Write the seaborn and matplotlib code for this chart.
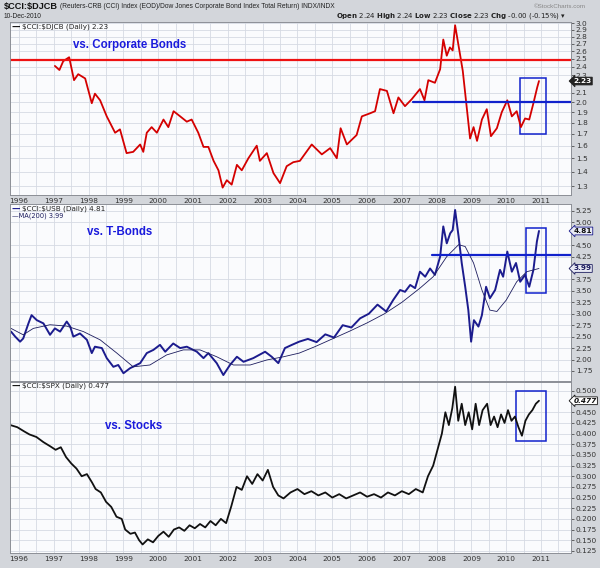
import matplotlib
matplotlib.use("Agg")
import matplotlib.pyplot as plt
import numpy as np
import pandas as pd
import seaborn as sns
from matplotlib.patches import Rectangle
from matplotlib.ticker import FixedLocator, NullLocator, FixedFormatter

# ---- data (decimal years) ----
years = list(range(1996, 2012))

djcb_years = [1997.03, 1997.16, 1997.27, 1997.44, 1997.58, 1997.70, 1997.90,
              1998.09, 1998.18, 1998.33, 1998.52, 1998.76, 1998.90,
              1999.09, 1999.28, 1999.48, 1999.57, 1999.67, 1999.81, 1999.96,
              2000.15, 2000.29, 2000.44, 2000.63, 2000.82, 2000.96,
              2001.15, 2001.30, 2001.44, 2001.59, 2001.73, 2001.85, 2001.97,
              2002.11, 2002.26, 2002.40, 2002.59, 2002.83, 2002.92,
              2003.12, 2003.31, 2003.50, 2003.69, 2003.88,
              2004.07, 2004.41, 2004.70, 2004.94,
              2005.13, 2005.24, 2005.42, 2005.70, 2005.85,
              2006.09, 2006.23, 2006.37, 2006.57, 2006.76, 2006.90,
              2007.09, 2007.28, 2007.52, 2007.65, 2007.76, 2007.95,
              2008.10, 2008.19, 2008.29, 2008.38, 2008.46, 2008.53, 2008.67, 2008.75, 2008.86, 2008.96,
              2009.06, 2009.16, 2009.30, 2009.44, 2009.56, 2009.73, 2009.87,
              2010.03, 2010.16, 2010.30, 2010.42, 2010.54, 2010.66, 2010.78, 2010.89, 2010.94]
djcb_vals = [2.41, 2.36, 2.47, 2.52, 2.24, 2.31, 2.26,
             1.99, 2.09, 2.02, 1.86, 1.71, 1.74,
             1.54, 1.55, 1.61, 1.55, 1.71, 1.76, 1.71,
             1.83, 1.76, 1.91, 1.86, 1.81, 1.83,
             1.71, 1.59, 1.59, 1.48, 1.41, 1.29, 1.34,
             1.31, 1.45, 1.41, 1.50, 1.60, 1.48,
             1.54, 1.39, 1.32, 1.44, 1.47,
             1.48, 1.61, 1.53, 1.58,
             1.50, 1.75, 1.61, 1.69, 1.86,
             1.89, 1.91, 2.14, 2.12, 1.89, 2.05,
             1.96, 2.03, 2.14, 2.02, 2.24, 2.21,
             2.37, 2.76, 2.54, 2.65, 2.61, 2.97, 2.56, 2.35, 1.96, 1.66,
             1.76, 1.64, 1.83, 1.93, 1.68, 1.75, 1.90,
             2.02, 1.86, 1.91, 1.76, 1.84, 1.83, 1.99, 2.16, 2.23]

usb_years = [1995.77, 1995.89, 1996.03, 1996.12, 1996.27, 1996.36, 1996.51, 1996.70, 1996.89,
             1997.03, 1997.18, 1997.37, 1997.47, 1997.56, 1997.75, 1997.95,
             1998.09, 1998.18, 1998.38, 1998.52, 1998.71, 1998.85,
             1999.00, 1999.19, 1999.48, 1999.67, 1999.86,
             2000.05, 2000.20, 2000.43, 2000.63, 2000.82,
             2001.11, 2001.30, 2001.44, 2001.68, 2001.87,
             2002.06, 2002.26, 2002.45, 2002.73,
             2003.07, 2003.26, 2003.45, 2003.64, 2003.84,
             2004.05, 2004.30, 2004.55, 2004.80,
             2005.05, 2005.30, 2005.55, 2005.80,
             2006.05, 2006.30, 2006.55, 2006.75, 2006.95,
             2007.09, 2007.24, 2007.38, 2007.52, 2007.67, 2007.81, 2007.95,
             2008.10, 2008.19, 2008.29, 2008.39, 2008.46, 2008.53, 2008.63, 2008.72, 2008.82, 2008.91, 2008.99,
             2009.07, 2009.20, 2009.30, 2009.42, 2009.53, 2009.68, 2009.82, 2009.91,
             2010.03, 2010.16, 2010.28, 2010.40, 2010.54, 2010.66, 2010.78, 2010.88, 2010.94]
usb_vals = [2.61, 2.50, 2.39, 2.46, 2.79, 2.97, 2.86, 2.79, 2.54,
            2.68, 2.61, 2.83, 2.72, 2.50, 2.57, 2.43,
            2.14, 2.28, 2.25, 2.03, 1.84, 1.88,
            1.70, 1.81, 1.92, 2.14, 2.21,
            2.32, 2.17, 2.35, 2.25, 2.28,
            2.17, 2.03, 2.14, 1.92, 1.66,
            1.88, 2.06, 1.95, 2.03,
            2.17, 2.06, 1.92, 2.25, 2.32,
            2.39, 2.45, 2.38, 2.55,
            2.48, 2.75, 2.70, 2.90,
            3.00, 3.20, 3.05, 3.30, 3.52,
            3.48, 3.63, 3.56, 3.92, 3.81, 3.99, 3.85,
            4.25, 4.91, 4.54, 4.76, 4.83, 5.27, 4.69, 4.11, 3.59, 3.08, 2.39,
            2.86, 2.72, 2.97, 3.59, 3.34, 3.52, 3.96, 3.81,
            4.36, 3.92, 4.11, 3.70, 3.85, 3.59, 3.96, 4.58, 4.81]

ma_years = [1995.77, 1996.12, 1996.41, 1996.89, 1997.37, 1997.85, 1998.33, 1998.81,
            1999.28, 1999.76, 2000.24, 2000.72, 2001.20, 2001.68, 2002.16, 2002.64,
            2003.12, 2003.60, 2004.05, 2004.50, 2005.00, 2005.50, 2006.00, 2006.50,
            2007.00, 2007.52, 2007.90, 2008.29, 2008.63, 2008.82, 2009.06, 2009.30,
            2009.53, 2009.73, 2010.00, 2010.30, 2010.59, 2010.94]
ma_vals = [2.68, 2.54, 2.68, 2.76, 2.73, 2.61, 2.43, 2.14,
           1.84, 1.88, 2.10, 2.21, 2.21, 2.06, 1.88, 1.88,
           1.99, 2.06, 2.14, 2.28, 2.45, 2.62, 2.80, 3.00,
           3.25, 3.56, 3.81, 4.25, 4.51, 4.47, 4.11, 3.52,
           3.08, 3.05, 3.30, 3.70, 3.92, 3.99]

spx_years = [1995.75, 1995.95, 1996.15, 1996.3, 1996.5, 1996.7, 1996.9,
             1997.05, 1997.2, 1997.35, 1997.5, 1997.65, 1997.8, 1997.95,
             1998.1, 1998.2, 1998.35, 1998.5, 1998.65, 1998.8, 1998.95,
             1999.05, 1999.2, 1999.33, 1999.45, 1999.55, 1999.7, 1999.85,
             2000.0, 2000.15, 2000.3, 2000.45, 2000.6, 2000.75, 2000.9,
             2001.05, 2001.2, 2001.35, 2001.5, 2001.65, 2001.8, 2001.95,
             2002.1, 2002.25, 2002.4, 2002.55, 2002.7, 2002.85,
             2003.0, 2003.15, 2003.3, 2003.45, 2003.6, 2003.8,
             2004.0, 2004.2, 2004.4, 2004.6, 2004.8,
             2005.0, 2005.2, 2005.4, 2005.6, 2005.8,
             2006.0, 2006.2, 2006.4, 2006.6, 2006.8,
             2007.0, 2007.2, 2007.4, 2007.6, 2007.75, 2007.9,
             2008.05, 2008.15, 2008.25, 2008.35, 2008.45, 2008.53, 2008.62, 2008.72, 2008.82, 2008.92,
             2009.02, 2009.12, 2009.22, 2009.32, 2009.45, 2009.55, 2009.65, 2009.75, 2009.85, 2009.95,
             2010.05, 2010.15, 2010.25, 2010.35, 2010.45, 2010.55, 2010.65, 2010.75, 2010.85, 2010.94]
spx_vals = [0.420, 0.415, 0.405, 0.398, 0.392, 0.380, 0.370,
            0.362, 0.368, 0.345, 0.330, 0.318, 0.300, 0.305,
            0.285, 0.270, 0.262, 0.240, 0.228, 0.205, 0.200,
            0.175, 0.165, 0.168, 0.150, 0.140, 0.152, 0.145,
            0.160, 0.170, 0.158, 0.175, 0.180, 0.172, 0.185,
            0.178, 0.188, 0.180, 0.195, 0.185, 0.200, 0.190,
            0.230, 0.275, 0.268, 0.300, 0.282, 0.305,
            0.290, 0.315, 0.275, 0.255, 0.248, 0.262,
            0.270, 0.258, 0.265, 0.255, 0.262,
            0.250, 0.258, 0.248, 0.255, 0.262,
            0.252, 0.258, 0.250, 0.262, 0.255,
            0.265, 0.258, 0.270, 0.262, 0.300, 0.325,
            0.370, 0.400, 0.450, 0.420, 0.460, 0.510, 0.430, 0.470, 0.420, 0.450,
            0.410, 0.470, 0.420, 0.455, 0.470, 0.420, 0.440, 0.415, 0.445, 0.425,
            0.455, 0.430, 0.440, 0.415, 0.395, 0.430, 0.445, 0.455, 0.470, 0.477]

# 2.2 sits under the 2.23 value tag, so it is left out
djcb_ticks = [1.3, 1.4, 1.5, 1.6, 1.7, 1.8, 1.9, 2.0, 2.1, 2.3, 2.4, 2.5, 2.6, 2.7, 2.8, 2.9, 3.0]
usb_ticks = [1.75, 2.00, 2.25, 2.50, 2.75, 3.00, 3.25, 3.50, 3.75, 4.25, 4.50, 5.00, 5.25]
spx_ticks = [0.125, 0.150, 0.175, 0.200, 0.225, 0.250, 0.275, 0.300, 0.325, 0.350,
             0.375, 0.400, 0.425, 0.450, 0.500]

# annotations drawn on the chart
djcb_red_level = 2.49
djcb_blue_level = 2.00
usb_blue_level = 4.28

sns.set_theme(style="white")
plt.rcParams["font.family"] = ["DejaVu Sans"]

W, H = 600, 568
fig = plt.figure(figsize=(W / 100, H / 100), dpi=100)
fig.patch.set_facecolor("#d3d6db")


def px_axes(top, bottom, left=10, right=571):
    return fig.add_axes([left / W, 1 - bottom / H, (right - left) / W, (bottom - top) / H])


ax1 = px_axes(22, 195)
ax2 = px_axes(204, 381)
ax3 = px_axes(382, 553)

grid_c = "#d6dae3"
for ax in (ax1, ax2, ax3):
    ax.set_facecolor("#fafbfd")
    ax.xaxis.set_major_locator(FixedLocator(years))
    ax.xaxis.set_minor_locator(FixedLocator([y + 0.5 for y in years]))
    ax.grid(True, which="both", axis="x", color=grid_c, linewidth=0.6)
    ax.grid(True, which="major", axis="y", color=grid_c, linewidth=0.6)
    ax.yaxis.tick_right()
    ax.tick_params(axis="y", labelsize=5.3, colors="#333333", length=2, pad=1.5, width=0.5)
    ax.tick_params(axis="x", which="both", length=0, labelsize=5.3, colors="#333333", pad=2)
    for s in ax.spines.values():
        s.set_color("#8c8f96")
        s.set_linewidth(0.7)

# ---- panel 1 : CCI / DJCB ----
sns.lineplot(x=djcb_years, y=djcb_vals, ax=ax1, color="#d40000", linewidth=1.3,
             estimator=None, sort=False)
ax1.set_yscale("log")
ax1.set_ylim(1.242, 3.02)
ax1.yaxis.set_major_locator(FixedLocator(djcb_ticks))
ax1.yaxis.set_major_formatter(FixedFormatter([f"{t:.1f}" for t in djcb_ticks]))
ax1.yaxis.set_minor_locator(NullLocator())
ax1.axhline(djcb_red_level, color="#ee1111", linewidth=1.6)
ax1.plot([2007.33, 2012.0], [djcb_blue_level] * 2, color="#1122cc", linewidth=1.6)
ax1.add_patch(Rectangle((2010.40, 1.70), 0.74, 0.57, fill=False, edgecolor="#1122cc", linewidth=1.1))
ax1.set_xticks(years)
ax1.set_xticklabels([str(y) for y in years])

# ---- panel 2 : CCI / USB ----
sns.lineplot(x=usb_years, y=usb_vals, ax=ax2, color="#1c1c8e", linewidth=1.4,
             estimator=None, sort=False)
sns.lineplot(x=ma_years, y=ma_vals, ax=ax2, color="#1c1c5e", linewidth=0.6,
             estimator=None, sort=False)
ax2.set_ylim(1.53, 5.40)
ax2.yaxis.set_major_locator(FixedLocator(usb_ticks))
ax2.yaxis.set_major_formatter(FixedFormatter([f"{t:.2f}" for t in usb_ticks]))
ax2.plot([2007.86, 2012.0], [usb_blue_level] * 2, color="#1122cc", linewidth=1.6)
ax2.add_patch(Rectangle((2010.56, 3.45), 0.58, 1.42, fill=False, edgecolor="#1122cc", linewidth=1.1))
ax2.set_xticklabels([])

# ---- panel 3 : CCI / SPX ----
sns.lineplot(x=spx_years, y=spx_vals, ax=ax3, color="#111111", linewidth=1.3,
             estimator=None, sort=False)
ax3.set_ylim(0.12, 0.521)
ax3.yaxis.set_major_locator(FixedLocator(spx_ticks))
ax3.yaxis.set_major_formatter(FixedFormatter([f"{t:.3f}" for t in spx_ticks]))
ax3.add_patch(Rectangle((2010.28, 0.382), 0.86, 0.118, fill=False, edgecolor="#1122cc", linewidth=1.1))
ax3.set_xticks(years)
ax3.set_xticklabels([str(y) for y in years])

for ax in (ax1, ax2, ax3):
    ax.set_xlim(1995.74, 2011.86)
    ax.set_xlabel("")
    ax.set_ylabel("")


# ---- last-value tags on the right axis ----
def tag(ax, val, text, fc, tc, ec, style="normal"):
    ax.text(1.004, val, text, transform=ax.get_yaxis_transform(), fontsize=5.3,
            color=tc, fontweight="bold", fontstyle=style, va="center", ha="left",
            bbox=dict(boxstyle="larrow,pad=0.12", fc=fc, ec=ec, lw=0.6), zorder=10, clip_on=False)


tag(ax1, 2.23, "2.23", "#222222", "white", "#222222")
tag(ax2, 4.81, "4.81", "#e8eaf4", "#111111", "#1c1c8e")
tag(ax2, 3.99, "3.99", "#e8eaf4", "#1c1c5e", "#1c1c5e")
tag(ax3, 0.477, "0.477", "white", "#111111", "#111111", "italic")


# ---- in-panel legends ----
def legend_line(y_px, color, text):
    fig.text(12 / W, 1 - y_px / H, "\u2014", color=color, fontsize=6, fontweight="bold",
             va="center", ha="left")
    fig.text(22 / W, 1 - y_px / H, text, color="#222222", fontsize=5.2, va="center", ha="left")


legend_line(27, "#111111", r"\$CCI:\$DJCB (Daily) 2.23")
legend_line(209, "#1c1c8e", r"\$CCI:\$USB (Daily) 4.81")
fig.text(12 / W, 1 - 216 / H, "\u2014MA(200) 3.99", color="#1c1c5e", fontsize=4.8, va="center", ha="left")
legend_line(386, "#111111", r"\$CCI:\$SPX (Daily) 0.477")

# ---- big blue labels ----
lab = dict(color="#1a1adc", fontsize=8.3, fontweight="bold", family=["Liberation Sans", "DejaVu Sans"],
           va="center", ha="left")
fig.text(73 / W, 1 - 45 / H, "vs. Corporate Bonds", **lab)
fig.text(87 / W, 1 - 232 / H, "vs. T-Bonds", **lab)
fig.text(105 / W, 1 - 426 / H, "vs. Stocks", **lab)

# ---- header ----
sans = ["Liberation Sans", "DejaVu Sans"]
fig.text(4 / W, 1 - 7 / H, r"\$CCI:\$DJCB", fontsize=6.6, fontweight="bold", color="#111111",
         family=sans, va="center", ha="left")
fig.text(60 / W, 1 - 7 / H,
         "(Reuters-CRB (CCI) Index (EOD)/Dow Jones Corporate Bond Index Total Return) INDX/INDX",
         fontsize=4.8, color="#222222", family=sans, va="center", ha="left")
fig.text(4 / W, 1 - 16 / H, "10-Dec-2010", fontsize=4.8, color="#222222",
         family=sans, va="center", ha="left")
fig.text(586 / W, 1 - 7 / H, "\u00a9StockCharts.com", fontsize=4.5, color="#888888",
         family=sans, va="center", ha="right")
fig.text(566 / W, 1 - 16 / H,
         r"$\bf{Open}$ 2.24 $\bf{High}$ 2.24 $\bf{Low}$ 2.23 $\bf{Close}$ 2.23 $\bf{Chg}$ -0.00 (-0.15%) ▾",
         fontsize=5, color="#222222", va="center", ha="right")

fig.savefig("out.png", dpi=100, facecolor=fig.get_facecolor())
